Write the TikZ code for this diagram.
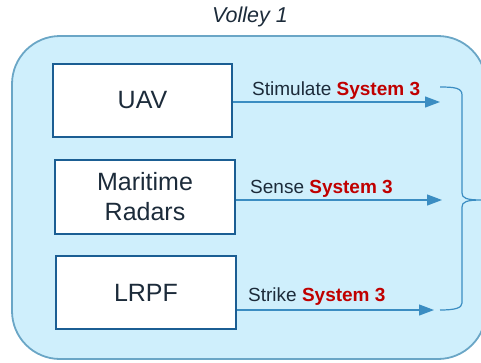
\documentclass[tikz,border=0pt]{standalone}
\usepackage{fontspec}
\setmainfont{Liberation Sans}
\usetikzlibrary{arrows.meta, positioning}
\definecolor{volleyfill}{HTML}{CFEFFC}
\definecolor{volleyedge}{HTML}{6AA6C6}
\definecolor{boxedge}{HTML}{1B5E93}
\definecolor{flowblue}{HTML}{3B8DC2}
\definecolor{inkdark}{HTML}{1C2B3A}
\definecolor{sysred}{HTML}{C00000}
\newcommand{\sysname}{\textcolor{sysred}{\bfseries System 3}}

\begin{document}
\begin{tikzpicture}[
    x=1pt, y=-1pt,
    >=Triangle,
    asset/.style={draw=boxedge, line width=2.2pt, fill=white, minimum width=179pt,
        minimum height=73pt, align=center, text=inkdark, font=\fontsize{25}{30}\selectfont},
    flow/.style={-{Triangle[length=15pt, width=11pt]}, line width=1.2pt, flowblue},
    flowlabel/.style={anchor=base west, inner sep=0pt, text=inkdark, font=\fontsize{19}{22}\selectfont},
]
    \useasboundingbox (0,0) rectangle (481,362);
    \clip (0,0) rectangle (481,362);

    % Volley container
    \filldraw[fill=volleyfill, draw=volleyedge, line width=1.8pt, rounded corners=48pt]
        (12,36) rectangle (486,359);
    \node[text=inkdark, font=\fontsize{21.5}{25}\selectfont\itshape] (title) at (250,17) {Volley 1};

    % Assets
    \node[asset] (uav) at (142.5,100.5) {UAV};
    \node[asset, minimum width=180pt, minimum height=74pt] (radars) at (145,197) {Maritime\\Radars};
    \node[asset, minimum width=180pt] (lrpf) at (146,292.5) {LRPF};

    % Arrow tips
    \coordinate (tipA) at (440,102);
    \coordinate (tipB) at (442,200);
    \coordinate (tipC) at (434,310);

    % Flows
    \draw[flow] (uav.east |- tipA) -- (tipA);
    \draw[flow] (radars.east |- tipB) -- (tipB);
    \draw[flow] (lrpf.east |- tipC) -- (tipC);
    \node[flowlabel] (stimA) at (252,95) {Stimulate \sysname};
    \node[flowlabel] (senseB) at (250,193) {Sense \sysname};
    \node[flowlabel] (strikeC) at (248,301) {Strike \sysname};

    % Brace
    \draw[flowblue, line width=1.2pt]
        (440,87) .. controls (455,87) and (462,88) .. (462,95) -- (462,193)
        .. controls (462,198) and (466,200) .. (482,200)
        .. controls (466,200) and (462,202) .. (462,207) -- (462,303)
        .. controls (462,308) and (455,310) .. (440,310);
\end{tikzpicture}
\end{document}
